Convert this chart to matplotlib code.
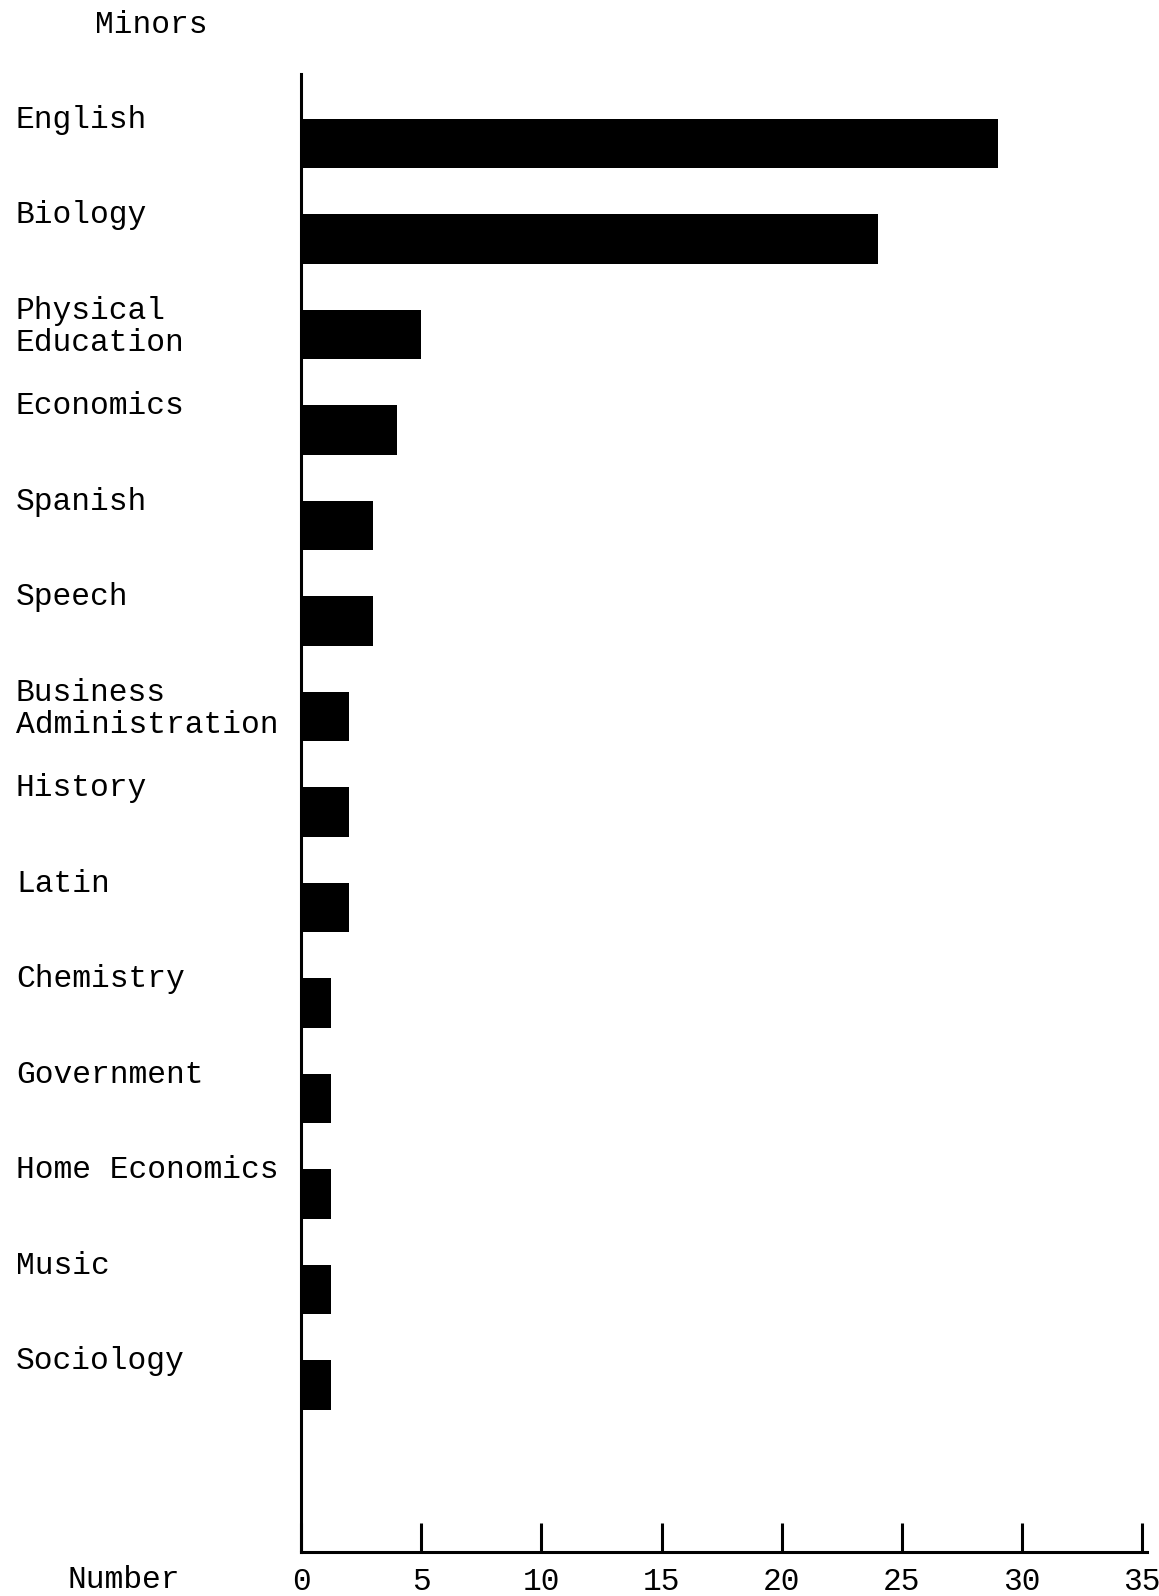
import matplotlib.pyplot as plt
import matplotlib.transforms as mtransforms

minors = ['English', 'Biology', 'Physical\nEducation', 'Economics', 'Spanish',
          'Speech', 'Business\nAdministration', 'History', 'Latin', 'Chemistry',
          'Government', 'Home Economics', 'Music', 'Sociology']
counts = [29, 24, 5, 4, 3, 3, 2, 2, 2, 1.25, 1.25, 1.25, 1.25, 1.25]
ticks = [0, 5, 10, 15, 20, 25, 30, 35]

font = ['Liberation Mono', 'DejaVu Sans Mono']
fs = 22.5

fig = plt.figure(figsize=(11.59, 15.96), dpi=100)
ax = fig.add_axes([301/1159, 1-1552/1596, (1147-301)/1159, (1552-74)/1596])

bh = 0.52
ax.barh(range(len(minors)), counts, height=bh, color='black', align='center')
ax.set_xlim(0, 35.2)
ax.set_ylim(14.75, -0.728)

for s in ['top', 'right']:
    ax.spines[s].set_visible(False)
for s in ['left', 'bottom']:
    ax.spines[s].set_linewidth(2.2)
ax.set_yticks([])
ax.set_xticks(ticks)
ax.set_xticklabels([str(t) for t in ticks], family=font, fontsize=fs)
ax.tick_params(axis='x', direction='in', length=21, width=2.2, pad=11)

tr = mtransforms.blended_transform_factory(fig.transFigure, ax.transData)
px = 1 / 95.5  # data units per pixel vertically
for i, lab in enumerate(minors):
    top = i - bh/2
    for j, line in enumerate(lab.split('\n')):
        ax.text(16/1159, top + (9 + 32.5*j)*px, line, transform=tr,
                family=font, fontsize=fs, va='baseline', ha='left')

fig.text(95/1159, 1-25/1596, 'Minors', family=font, fontsize=fs, va='center', ha='left')
fig.text(67/1159, 1-1580/1596, 'Number', family=font, fontsize=fs, va='center', ha='left')

fig.savefig('out.png', dpi=100)
